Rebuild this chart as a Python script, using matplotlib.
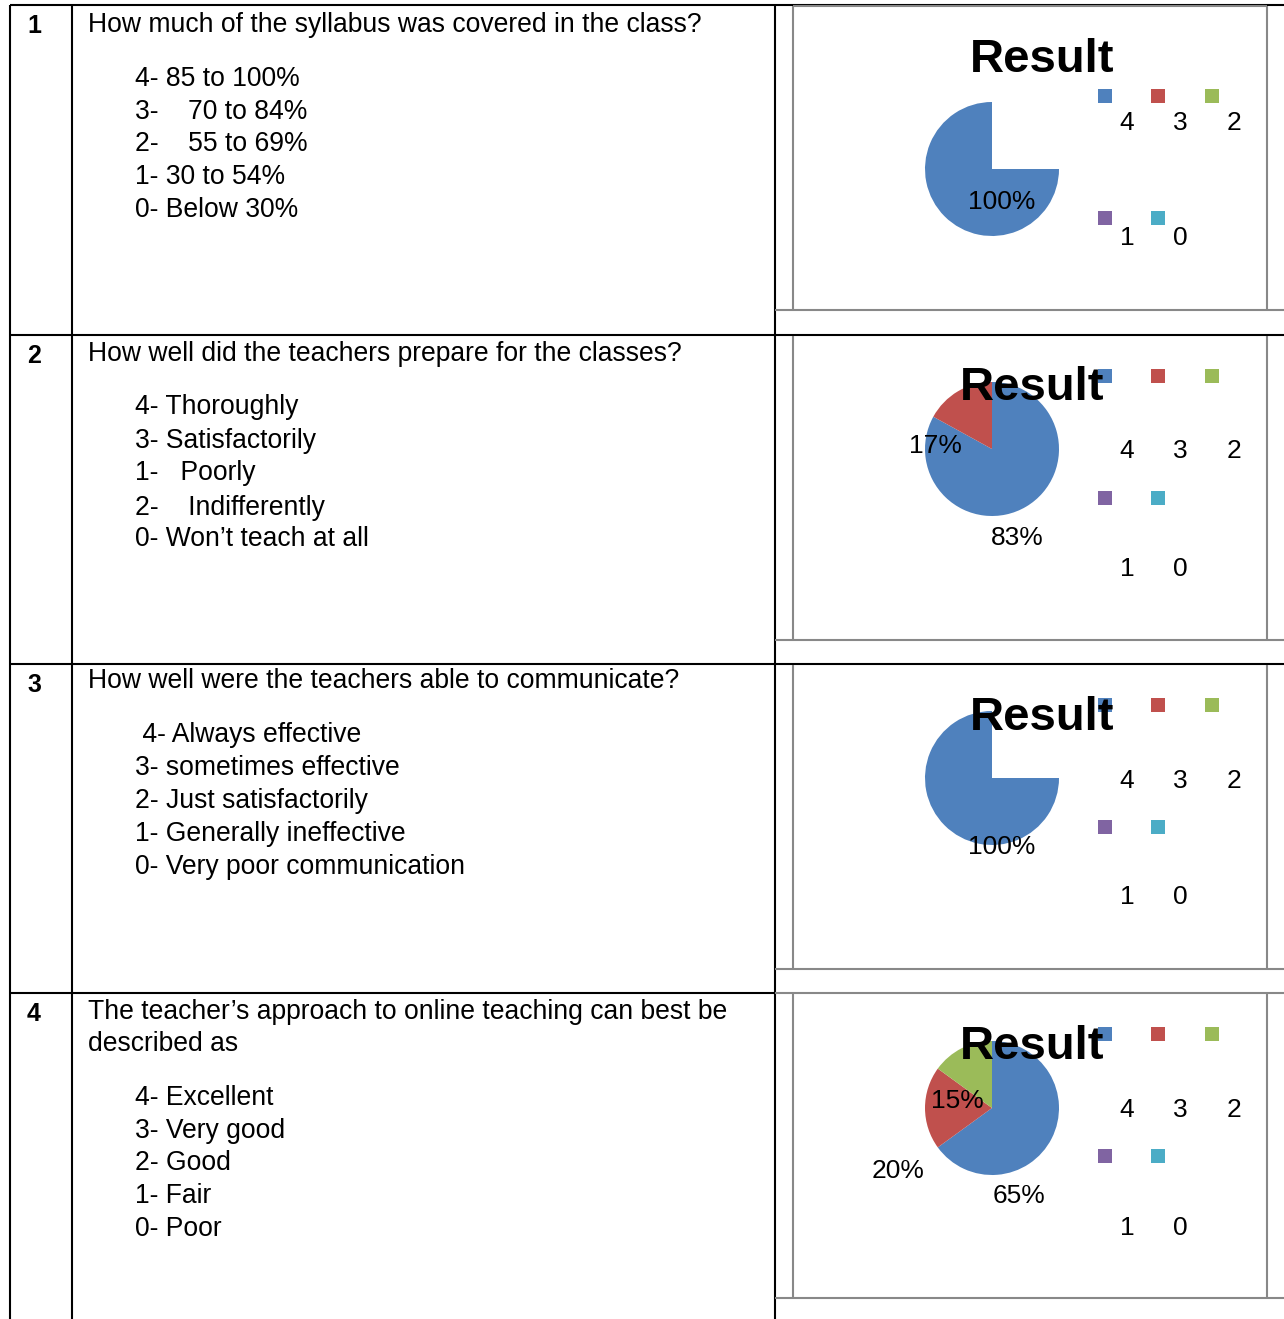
import matplotlib.pyplot as plt
from matplotlib.patches import Rectangle

W, H = 1284, 1319
plt.rcParams['font.family'] = ['Liberation Sans', 'DejaVu Sans']

# survey data
row_numbers = ["1", "2", "3", "4"]
questions = [
    ["How much of the syllabus was covered in the class?"],
    ["How well did the teachers prepare for the classes?"],
    ["How well were the teachers able to communicate?"],
    ["The teacher\u2019s approach to online teaching can best be", "described as"],
]
options = [
    ["4- 85 to 100%", "3-    70 to 84%", "2-    55 to 69%", "1- 30 to 54%", "0- Below 30%"],
    ["4- Thoroughly", "3- Satisfactorily", "1-   Poorly", "2-    Indifferently", "0- Won\u2019t teach at all"],
    [" 4- Always effective", "3- sometimes effective", "2- Just satisfactorily",
     "1- Generally ineffective", "0- Very poor communication"],
    ["4- Excellent", "3- Very good", "2- Good", "1- Fair", "0- Poor"],
]
ratings = ["4", "3", "2", "1", "0"]
shares = [
    [100, 0, 0, 0, 0],
    [83, 17, 0, 0, 0],
    [100, 0, 0, 0, 0],
    [65, 20, 15, 0, 0],
]
colors = ["#4F81BD", "#C0504D", "#9BBB59", "#8064A2", "#4BACC6"]

# layout (pixels)
row_tops = [5, 335, 664, 993]
q_y = [[25], [354], [681], [1012, 1044]]
opt_y = [[79, 112, 144, 177, 210], [407, 441, 473, 508, 539],
         [735, 768, 801, 834, 867], [1098, 1131, 1163, 1196, 1229]]
title_pos = [(1042, 60), (1032, 388), (1042, 718), (1032, 1047)]
pie_cy = [169, 449, 778, 1108]
leg_y = [(96, 123, 218, 238), (376, 451, 498, 569), (705, 781, 827, 897), (1034, 1110, 1156, 1228)]
# percent label offsets in pie radii, per slice index
lab_pos = [
    {0: (0.15, -0.49)},
    {0: (0.37, -1.33), 1: (-0.84, 0.04)},
    {0: (0.15, -1.03)},
    {0: (0.40, -1.31), 1: (-1.40, -0.94), 2: (-0.52, 0.10)},
]
PIE_CX, PIE_R = 992, 67
TXT = 19.1

fig = plt.figure(figsize=(W / 100, H / 100), dpi=100)

for i in range(4):
    cy = pie_cy[i]
    pax = fig.add_axes([(PIE_CX - PIE_R) / W, 1 - (cy + PIE_R) / H, 2 * PIE_R / W, 2 * PIE_R / H])
    wedges, _ = pax.pie(shares[i], colors=colors, startangle=90, counterclock=False,
                        wedgeprops=dict(linewidth=0))
    if shares[i][0] == 100:
        # the source renders the full slice with the top-right quarter missing
        wedges[0].set_theta1(90)
        wedges[0].set_theta2(360)
    for k, (dx, dy) in lab_pos[i].items():
        pax.text(dx, dy, f"{shares[i][k]}%", ha='center', va='center', fontsize=19, clip_on=False)
    pax.set_xlim(-1, 1)
    pax.set_ylim(-1, 1)
    pax.axis('off')

ax = fig.add_axes([0, 0, 1, 1], zorder=5)
ax.patch.set_alpha(0)
ax.set_xlim(0, W)
ax.set_ylim(H, 0)
ax.axis('off')

BLK = dict(color='black', lw=1.5, solid_capstyle='butt')
GRY = dict(color='#888888', lw=1.5, solid_capstyle='butt')

# table grid
for x in [10, 72, 775]:
    ax.plot([x, x], [5, H], **BLK)
for y in row_tops[:3]:
    ax.plot([10, W], [y, y], **BLK)
ax.plot([10, 775], [993, 993], **BLK)

# chart frames
ax.plot([793, 1267], [6, 6], **GRY)
ax.plot([775, W], [993, 993], **GRY)
for top in row_tops:
    ax.plot([793, 793], [top + 1, top + 305], **GRY)
    ax.plot([1267, 1267], [top + 1, top + 305], **GRY)
    ax.plot([775, W], [top + 305, top + 305], **GRY)

for i in range(4):
    top = row_tops[i]
    ax.text(34, top + 21, row_numbers[i], fontsize=18, fontweight='bold', ha='center', va='center')
    for line, y in zip(questions[i], q_y[i]):
        ax.text(88, y, line, fontsize=TXT, ha='left', va='center')
    for opt, y in zip(options[i], opt_y[i]):
        ax.text(135, y, opt, fontsize=TXT, ha='left', va='center')

    # legend
    sq1, lab1, sq2, lab2 = leg_y[i]
    xs_sq = [1105, 1158, 1212, 1105, 1158]
    xs_lab = [1127, 1180, 1234, 1127, 1180]
    for k, r in enumerate(ratings):
        sy, ly = (sq1, lab1) if k < 3 else (sq2, lab2)
        ax.add_patch(Rectangle((xs_sq[k] - 7, sy - 7), 14, 14, color=colors[k], lw=0))
        ax.text(xs_lab[k], ly, r, fontsize=19, ha='center', va='center')

    tx, ty = title_pos[i]
    ax.text(tx, ty, "Result", fontsize=34, fontweight='bold', ha='center', va='center', zorder=10)

fig.savefig("out.png", dpi=100)
